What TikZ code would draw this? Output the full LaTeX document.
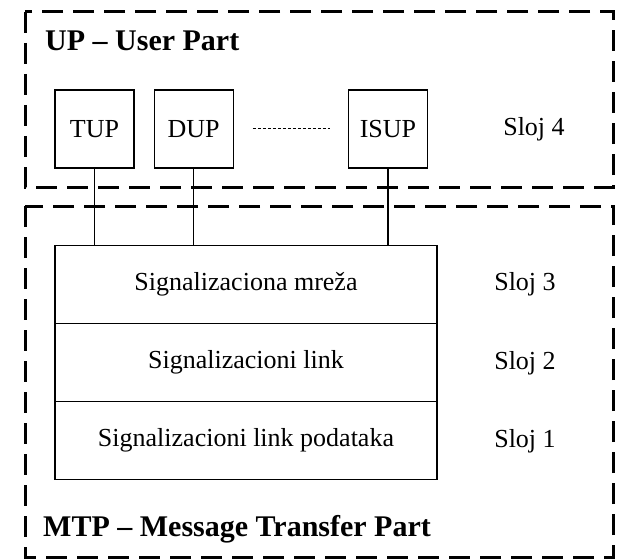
\documentclass[tikz,border=0pt]{standalone}
\usepackage{fontspec}
\setmainfont{Liberation Serif}
\usetikzlibrary{positioning}

\begin{document}
\begin{tikzpicture}[x=1pt,y=-1pt,font=\fontsize{26}{30}\selectfont,node distance=19pt and 19pt,frame/.style={draw,line width=3pt,dash pattern=on 21pt off 10pt},part/.style={draw,line width=1.2pt,minimum width=79pt,minimum height=78pt,inner sep=0pt},layer/.style={draw,line width=1.2pt,minimum width=382pt,minimum height=78pt,inner sep=0pt,outer sep=0pt},title/.style={font=\fontsize{30}{34}\selectfont\bfseries,anchor=west,inner sep=0pt}]
\useasboundingbox (0,0) rectangle (618,559);
\draw[frame] (25,12) rectangle (613,187);
\draw[frame] (25,206) rectangle (613,557);
\node[title] (up) at (45,41) {UP -- User Part};
\node[title] (mtp) at (43,529) {MTP -- Message Transfer Part};
\node[part] (tup) at (94.5,129) {TUP};
\node[part,right=of tup] (dup) {DUP};
\node[part] (isup) at (388,129) {ISUP};
\node (s4) at (534,129) {Sloj 4};
\draw[line width=1pt,dash pattern=on 3pt off 2pt,shorten <=19pt,shorten >=18pt] (dup.east) -- (isup.west);
\node[layer] (mreza) at (246,284.5) {Signalizaciona mreža};
\node[layer,below=0pt of mreza] (link) {Signalizacioni link};
\node[layer,below=0pt of link] (podaci) {Signalizacioni link podataka};
\node (s3) at (525,284.5) {Sloj 3};
\node (s2) at (525,363) {Sloj 2};
\node (s1) at (525,441) {Sloj 1};
\draw[line width=1.2pt] (tup.south) -- (tup.south |- mreza.north);
\draw[line width=1.2pt] (dup.south) -- (dup.south |- mreza.north);
\draw[line width=1.2pt] (isup.south) -- (isup.south |- mreza.north);
\end{tikzpicture}
\end{document}
